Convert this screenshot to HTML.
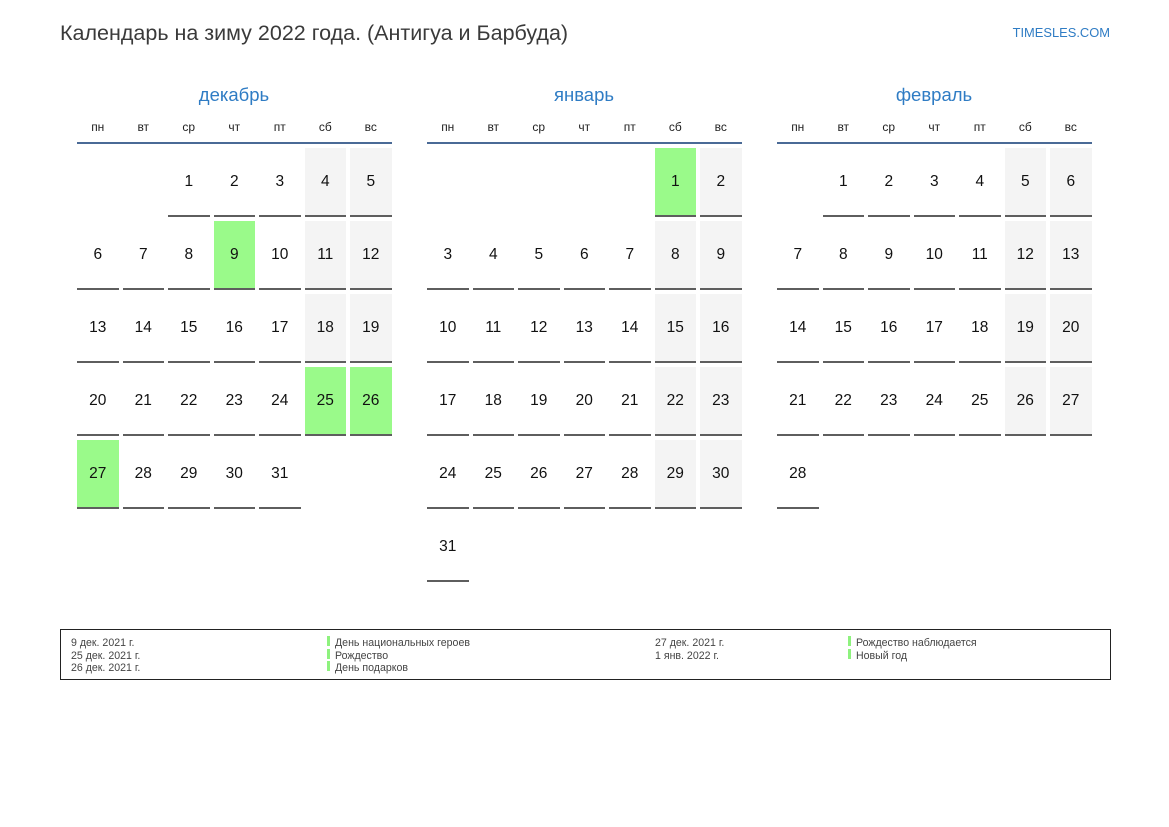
<!DOCTYPE html>
<html lang="ru">
<head>
<meta charset="utf-8">
<style>
html,body{margin:0;padding:0;background:#fff;}
body{width:1169px;height:827px;position:relative;overflow:hidden;font-family:"Liberation Sans","DejaVu Sans",sans-serif;}
.t{position:absolute;white-space:nowrap;}
.title{left:60px;top:20px;height:26px;line-height:26px;font-size:21.5px;color:#3a3a3a;}
.site{right:59px;top:22px;height:21px;line-height:21px;font-size:12.9px;color:#2f7cc4;}
.mn{position:absolute;top:83px;height:24px;line-height:24px;width:314px;text-align:center;font-size:18.5px;color:#2f7cc4;}
.dn{position:absolute;top:117px;height:20px;line-height:20px;width:41.5px;text-align:center;font-size:12px;color:#222;}
.hl{position:absolute;top:142px;height:2px;width:314.5px;background:#4a6a96;}
.c{position:absolute;width:41.5px;height:67px;line-height:68px;text-align:center;font-size:15.5px;color:#111;border-bottom:2px solid #5e5e5e;}
.w{background:#f4f4f4;}
.h{background:#9afa8a;}
.r0{top:148px}.r1{top:221px}.r2{top:294px}.r3{top:367px}.r4{top:440px}.r5{top:513px}
.a0{left:77px}.a1{left:122.5px}.a2{left:168px}.a3{left:213.5px}.a4{left:259px}.a5{left:304.5px}.a6{left:350px}
.b0{left:427px}.b1{left:472.5px}.b2{left:518px}.b3{left:563.5px}.b4{left:609px}.b5{left:654.5px}.b6{left:700px}
.f0{left:777px}.f1{left:822.5px}.f2{left:868px}.f3{left:913.5px}.f4{left:959px}.f5{left:1004.5px}.f6{left:1050px}
.lg{position:absolute;left:60px;top:629px;width:1051px;height:51px;box-sizing:border-box;border:1px solid #222;}
.lt{position:absolute;top:637px;line-height:12.6px;font-size:10.6px;color:#444;white-space:nowrap;}
.bar{position:absolute;width:3px;height:10px;background:#8ef27e;}
</style>
</head>
<body>
<div class="t title">Календарь на зиму 2022 года. (Антигуа и Барбуда)</div>
<div class="t site">TIMESLES.COM</div>

<!-- December -->
<div class="mn" style="left:77px">декабрь</div>
<div class="dn a0">пн</div><div class="dn a1">вт</div><div class="dn a2">ср</div><div class="dn a3">чт</div><div class="dn a4">пт</div><div class="dn a5">сб</div><div class="dn a6">вс</div>
<div class="hl" style="left:77px"></div>
<div class="c r0 a2">1</div><div class="c r0 a3">2</div><div class="c r0 a4">3</div><div class="c w r0 a5">4</div><div class="c w r0 a6">5</div>
<div class="c r1 a0">6</div><div class="c r1 a1">7</div><div class="c r1 a2">8</div><div class="c h r1 a3">9</div><div class="c r1 a4">10</div><div class="c w r1 a5">11</div><div class="c w r1 a6">12</div>
<div class="c r2 a0">13</div><div class="c r2 a1">14</div><div class="c r2 a2">15</div><div class="c r2 a3">16</div><div class="c r2 a4">17</div><div class="c w r2 a5">18</div><div class="c w r2 a6">19</div>
<div class="c r3 a0">20</div><div class="c r3 a1">21</div><div class="c r3 a2">22</div><div class="c r3 a3">23</div><div class="c r3 a4">24</div><div class="c h r3 a5">25</div><div class="c h r3 a6">26</div>
<div class="c h r4 a0">27</div><div class="c r4 a1">28</div><div class="c r4 a2">29</div><div class="c r4 a3">30</div><div class="c r4 a4">31</div>

<!-- January -->
<div class="mn" style="left:427px">январь</div>
<div class="dn b0">пн</div><div class="dn b1">вт</div><div class="dn b2">ср</div><div class="dn b3">чт</div><div class="dn b4">пт</div><div class="dn b5">сб</div><div class="dn b6">вс</div>
<div class="hl" style="left:427px"></div>
<div class="c h r0 b5">1</div><div class="c w r0 b6">2</div>
<div class="c r1 b0">3</div><div class="c r1 b1">4</div><div class="c r1 b2">5</div><div class="c r1 b3">6</div><div class="c r1 b4">7</div><div class="c w r1 b5">8</div><div class="c w r1 b6">9</div>
<div class="c r2 b0">10</div><div class="c r2 b1">11</div><div class="c r2 b2">12</div><div class="c r2 b3">13</div><div class="c r2 b4">14</div><div class="c w r2 b5">15</div><div class="c w r2 b6">16</div>
<div class="c r3 b0">17</div><div class="c r3 b1">18</div><div class="c r3 b2">19</div><div class="c r3 b3">20</div><div class="c r3 b4">21</div><div class="c w r3 b5">22</div><div class="c w r3 b6">23</div>
<div class="c r4 b0">24</div><div class="c r4 b1">25</div><div class="c r4 b2">26</div><div class="c r4 b3">27</div><div class="c r4 b4">28</div><div class="c w r4 b5">29</div><div class="c w r4 b6">30</div>
<div class="c r5 b0">31</div>

<!-- February -->
<div class="mn" style="left:777px">февраль</div>
<div class="dn f0">пн</div><div class="dn f1">вт</div><div class="dn f2">ср</div><div class="dn f3">чт</div><div class="dn f4">пт</div><div class="dn f5">сб</div><div class="dn f6">вс</div>
<div class="hl" style="left:777px"></div>
<div class="c r0 f1">1</div><div class="c r0 f2">2</div><div class="c r0 f3">3</div><div class="c r0 f4">4</div><div class="c w r0 f5">5</div><div class="c w r0 f6">6</div>
<div class="c r1 f0">7</div><div class="c r1 f1">8</div><div class="c r1 f2">9</div><div class="c r1 f3">10</div><div class="c r1 f4">11</div><div class="c w r1 f5">12</div><div class="c w r1 f6">13</div>
<div class="c r2 f0">14</div><div class="c r2 f1">15</div><div class="c r2 f2">16</div><div class="c r2 f3">17</div><div class="c r2 f4">18</div><div class="c w r2 f5">19</div><div class="c w r2 f6">20</div>
<div class="c r3 f0">21</div><div class="c r3 f1">22</div><div class="c r3 f2">23</div><div class="c r3 f3">24</div><div class="c r3 f4">25</div><div class="c w r3 f5">26</div><div class="c w r3 f6">27</div>
<div class="c r4 f0">28</div>

<!-- Legend -->
<div class="lg"></div>
<div class="lt" style="left:71px">9 дек. 2021 г.<br>25 дек. 2021 г.<br>26 дек. 2021 г.</div>
<div class="bar" style="left:327px;top:636px"></div>
<div class="bar" style="left:327px;top:648.5px"></div>
<div class="bar" style="left:327px;top:661px"></div>
<div class="lt" style="left:335px">День национальных героев<br>Рождество<br>День подарков</div>
<div class="lt" style="left:655px">27 дек. 2021 г.<br>1 янв. 2022 г.</div>
<div class="bar" style="left:848px;top:636px"></div>
<div class="bar" style="left:848px;top:648.5px"></div>
<div class="lt" style="left:856px">Рождество наблюдается<br>Новый год</div>
</body>
</html>
